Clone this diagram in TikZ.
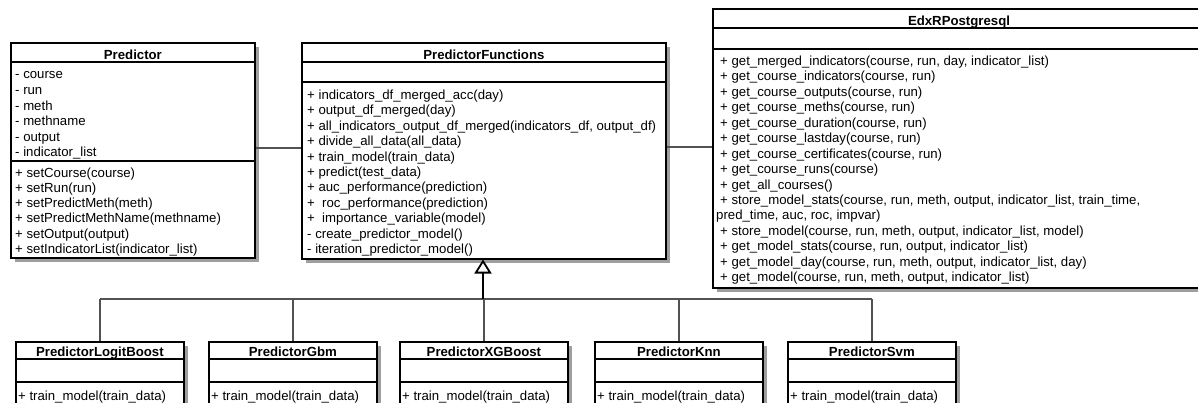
\documentclass[tikz,border=0pt]{standalone}
\usepackage{fontspec}
\setmainfont{Liberation Sans}
\usetikzlibrary{arrows.meta,shadows}
\begin{document}
\begin{tikzpicture}[x=1pt,y=-1pt,
  cls/.style={draw=black, line width=1.8pt, fill=white, anchor=north west, inner sep=0pt,
    drop shadow={shadow xshift=4pt, shadow yshift=-4pt, fill=black!38, opacity=1}},
  sep/.style={draw=black, line width=1.8pt},
  txt/.style={anchor=base west, inner sep=0pt, font=\fontsize{13.2}{15}\selectfont},
  ttl/.style={anchor=base, inner sep=0pt, font=\fontsize{13.2}{15}\selectfont\bfseries},
  conn/.style={draw=black!68, line width=1.4pt},
  gen/.style={draw=black, line width=2.6pt,
    -{Triangle[open, length=14pt, width=17pt, line width=1.8pt, fill=white]}},
]
\clip (0,0) rectangle (1198,403);
\fill[white] (0,0) rectangle (1198,403);

% ---------- class boxes ----------
\node[cls, minimum width=244, minimum height=215] (pred) at (10,42) {};
\node[cls, minimum width=364, minimum height=216] (pf) at (301,42) {};
\node[cls, minimum width=500, minimum height=279] (edx) at (712,8) {};

\node[cls, minimum width=168, minimum height=80] (lb)  at (15,341) {};
\node[cls, minimum width=168, minimum height=80] (gbm) at (208,341) {};
\node[cls, minimum width=168, minimum height=80] (xgb) at (399,341) {};
\node[cls, minimum width=168, minimum height=80] (knn) at (594,341) {};
\node[cls, minimum width=168, minimum height=80] (svm) at (787,341) {};

% compartment separators
\draw[sep] (pred.west |- 0,62) -- (pred.east |- 0,62);
\draw[sep] (pred.west |- 0,161) -- (pred.east |- 0,161);
\draw[sep] (pf.west |- 0,62) -- (pf.east |- 0,62);
\draw[sep] (pf.west |- 0,82) -- (pf.east |- 0,82);
\draw[sep] (edx.west |- 0,28) -- (edx.east |- 0,28);
\draw[sep] (edx.west |- 0,49) -- (edx.east |- 0,49);
\foreach \c in {lb,gbm,xgb,knn,svm}{
  \draw[sep] (\c.west |- 0,359) -- (\c.east |- 0,359);
  \draw[sep] (\c.west |- 0,382) -- (\c.east |- 0,382);
}

% ---------- titles ----------
\node[ttl] (pred-t) at (pred.north |- 0,59.5) {Predictor};
\node[ttl] (pf-t) at (pf.north |- 0,59.5) {PredictorFunctions};
\node[ttl] (edx-t) at (959,25.5) {EdxRPostgresql};
\node[ttl] (lb-t)  at (lb.north  |- 0,356.5) {PredictorLogitBoost};
\node[ttl] (gbm-t) at (gbm.north |- 0,356.5) {PredictorGbm};
\node[ttl] (xgb-t) at (xgb.north |- 0,356.5) {PredictorXGBoost};
\node[ttl] (knn-t) at (knn.north |- 0,356.5) {PredictorKnn};
\node[ttl] (svm-t) at (svm.north |- 0,356.5) {PredictorSvm};

% ---------- Predictor ----------
\foreach \t [count=\i from 0] in {{- course},{- run},{- meth},{- methname},{- output},{- indicator\_list}}
  \node[txt] (pred-a\i) at (15,{79+15.6*\i}) {\t};
\foreach \t [count=\i from 0] in {{+ setCourse(course)},{+ setRun(run)},{+ setPredictMeth(meth)},
    {+ setPredictMethName(methname)},{+ setOutput(output)},{+ setIndicatorList(indicator\_list)}}
  \node[txt] (pred-m\i) at (15,{178+15*\i}) {\t};

% ---------- PredictorFunctions ----------
\foreach \t [count=\i from 0] in {
    {+ indicators\_df\_merged\_acc(day)},
    {+ output\_df\_merged(day)},
    {+ all\_indicators\_output\_df\_merged(indicators\_df, output\_df)},
    {+ divide\_all\_data(all\_data)},
    {+ train\_model(train\_data)},
    {+ predict(test\_data)},
    {+ auc\_performance(prediction)},
    {+ \ roc\_performance(prediction)},
    {+ \ importance\_variable(model)},
    {- create\_predictor\_model()},
    {- iteration\_predictor\_model()}}
  \node[txt] (pf-m\i) at (307,{99.5+15.4*\i}) {\t};

% ---------- EdxRPostgresql ----------
\foreach \xx/\t [count=\i from 0] in {
    720/{+ get\_merged\_indicators(course, run, day, indicator\_list)},
    720/{+ get\_course\_indicators(course, run)},
    720/{+ get\_course\_outputs(course, run)},
    720/{+ get\_course\_meths(course, run)},
    720/{+ get\_course\_duration(course, run)},
    720/{+ get\_course\_lastday(course, run)},
    720/{+ get\_course\_certificates(course, run)},
    720/{+ get\_course\_runs(course)},
    720/{+ get\_all\_courses()},
    720/{+ store\_model\_stats(course, run, meth, output, indicator\_list, train\_time,},
    716/{pred\_time, auc, roc, impvar)},
    720/{+ store\_model(course, run, meth, output, indicator\_list, model)},
    720/{+ get\_model\_stats(course, run, output, indicator\_list)},
    720/{+ get\_model\_day(course, run, meth, output, indicator\_list, day)},
    720/{+ get\_model(course, run, meth, output, indicator\_list)}}
  \node[txt] (edx-m\i) at (\xx,{65.5+15.45*\i}) {\t};

% ---------- subclasses ----------
\foreach \c in {lb,gbm,xgb,knn,svm}
  \node[txt] (\c-m) at ([xshift=3pt]\c.west |- 0,400.5) {+ train\_model(train\_data)};

% ---------- associations ----------
\draw[conn] (pred.east |- 0,148) -- (pf.west |- 0,148);
\draw[conn] (pf.east |- 0,147) -- (edx.west |- 0,147);

% ---------- generalisation ----------
\coordinate (j) at (483,299);
\coordinate (tip) at (483,259.5);
\draw[conn] (lb.north |- j) -- (svm.north |- j);
\foreach \c in {lb,gbm,xgb,knn,svm}
  \draw[conn] (\c.north |- j) -- (\c.north);
\draw[gen] (j) -- (tip);
\end{tikzpicture}
\end{document}
